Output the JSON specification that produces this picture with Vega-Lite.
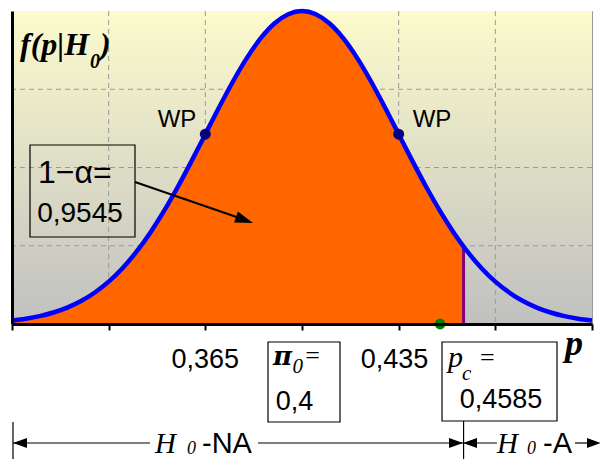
{
  "$schema": "https://vega.github.io/schema/vega-lite/v6.json",
  "width": 580,
  "height": 313,
  "autosize": {"type": "none"},
  "padding": {"left": 12, "top": 11, "right": 8, "bottom": 135},
  "background": "white",
  "config": {"view": {"stroke": "#999999", "strokeWidth": 1}},
  "datasets": {
    "curve": [
      {"p": 0.295, "f": 0.0111}, {"p": 0.300, "f": 0.0169}, {"p": 0.305, "f": 0.0251}, {"p": 0.310, "f": 0.0367},
      {"p": 0.315, "f": 0.0524}, {"p": 0.320, "f": 0.0734}, {"p": 0.325, "f": 0.1007}, {"p": 0.330, "f": 0.1353},
      {"p": 0.335, "f": 0.1783}, {"p": 0.340, "f": 0.2301}, {"p": 0.345, "f": 0.2909}, {"p": 0.350, "f": 0.3604},
      {"p": 0.355, "f": 0.4376}, {"p": 0.360, "f": 0.5204}, {"p": 0.365, "f": 0.6065}, {"p": 0.370, "f": 0.6926},
      {"p": 0.375, "f": 0.7748}, {"p": 0.380, "f": 0.8494}, {"p": 0.385, "f": 0.9123}, {"p": 0.390, "f": 0.9600},
      {"p": 0.395, "f": 0.9898}, {"p": 0.400, "f": 1.0}, {"p": 0.405, "f": 0.9898}, {"p": 0.410, "f": 0.9600},
      {"p": 0.415, "f": 0.9123}, {"p": 0.420, "f": 0.8494}, {"p": 0.425, "f": 0.7748}, {"p": 0.430, "f": 0.6926},
      {"p": 0.435, "f": 0.6065}, {"p": 0.440, "f": 0.5204}, {"p": 0.445, "f": 0.4376}, {"p": 0.450, "f": 0.3604},
      {"p": 0.455, "f": 0.2909}, {"p": 0.4585, "f": 0.2475}, {"p": 0.460, "f": 0.2301}, {"p": 0.465, "f": 0.1783},
      {"p": 0.470, "f": 0.1353}, {"p": 0.475, "f": 0.1007}, {"p": 0.480, "f": 0.0734}, {"p": 0.485, "f": 0.0524},
      {"p": 0.490, "f": 0.0367}, {"p": 0.495, "f": 0.0251}, {"p": 0.500, "f": 0.0169}, {"p": 0.505, "f": 0.0111}
    ]
  },
  "layer": [
    {
      "data": {"values": [{"p": 0.295, "p2": 0.505, "f": 0, "f2": 1}]},
      "mark": {"type": "rect", "color": {"gradient": "linear", "x1": 0, "y1": 0, "x2": 0, "y2": 1, "stops": [{"offset": 0, "color": "#FCFBCC"}, {"offset": 1, "color": "#C0C0C0"}]}},
      "encoding": {
        "x": {"field": "p", "type": "quantitative", "scale": {"domain": [0.295, 0.505], "nice": false, "zero": false},
              "axis": {"values": [0.295, 0.33, 0.365, 0.4, 0.435, 0.47, 0.505], "labels": false, "ticks": true, "tickSize": 6, "tickWidth": 2, "tickColor": "black", "domainColor": "black", "domainWidth": 3, "grid": false, "title": null, "zindex": 1}},
        "x2": {"field": "p2"},
        "y": {"field": "f", "type": "quantitative", "scale": {"domain": [0, 1], "nice": false, "zero": false},
              "axis": {"labels": false, "ticks": false, "domainColor": "black", "domainWidth": 3, "grid": false, "title": null, "zindex": 1}},
        "y2": {"field": "f2"}
      }
    },
    {
      "data": {"values": [{"p": 0.33}, {"p": 0.365}, {"p": 0.4}, {"p": 0.435}, {"p": 0.47}]},
      "mark": {"type": "rule", "color": "#9A9A9A", "strokeWidth": 1, "strokeDash": [5, 4]},
      "encoding": {"x": {"field": "p", "type": "quantitative"}}
    },
    {
      "data": {"values": [{"f": 0.25}, {"f": 0.5}, {"f": 0.75}]},
      "mark": {"type": "rule", "color": "#9A9A9A", "strokeWidth": 1, "strokeDash": [5, 4]},
      "encoding": {"y": {"field": "f", "type": "quantitative"}}
    },
    {
      "data": {"name": "curve"},
      "transform": [{"filter": "datum.p <= 0.4586"}],
      "mark": {"type": "area", "color": "#FF6600", "interpolate": "monotone"},
      "encoding": {"x": {"field": "p", "type": "quantitative"}, "y": {"field": "f", "type": "quantitative"}}
    },
    {
      "data": {"values": [{"p": 0.4585, "f": 0, "f2": 0.2475}]},
      "mark": {"type": "rule", "color": "#800080", "strokeWidth": 3},
      "encoding": {"x": {"field": "p", "type": "quantitative"}, "y": {"field": "f", "type": "quantitative"}, "y2": {"field": "f2"}}
    },
    {
      "data": {"name": "curve"},
      "mark": {"type": "line", "color": "#0000FF", "strokeWidth": 4.5, "interpolate": "monotone"},
      "encoding": {"x": {"field": "p", "type": "quantitative"}, "y": {"field": "f", "type": "quantitative"}}
    },
    {
      "data": {"values": [{"p": 0.365, "f": 0.6065}, {"p": 0.435, "f": 0.6065}]},
      "mark": {"type": "point", "filled": true, "color": "#000080", "opacity": 1, "size": 120},
      "encoding": {"x": {"field": "p", "type": "quantitative"}, "y": {"field": "f", "type": "quantitative"}}
    },
    {
      "data": {"values": [{"p": 0.45, "f": 0}]},
      "mark": {"type": "point", "filled": true, "color": "#008000", "opacity": 1, "size": 120},
      "encoding": {"x": {"field": "p", "type": "quantitative"}, "y": {"field": "f", "type": "quantitative"}}
    },
    {
      "data": {"values": [{"p": 0.35474, "f": 0.629, "t": "WP"}, {"p": 0.44707, "f": 0.629, "t": "WP"}]},
      "mark": {"type": "text", "font": "Liberation Sans", "fontSize": 24, "align": "center", "baseline": "alphabetic", "color": "black"},
      "encoding": {"x": {"field": "p", "type": "quantitative"}, "y": {"field": "f", "type": "quantitative"}, "text": {"field": "t"}}
    },
    {
      "data": {"values": [{"p": 0.2979, "f": 0.8594, "t": "f(p|H"}, {"p": 0.32686, "f": 0.8594, "t": ")"}]},
      "mark": {"type": "text", "font": "Liberation Serif", "fontSize": 32, "fontWeight": "bold", "fontStyle": "italic", "align": "left", "baseline": "alphabetic", "color": "black"},
      "encoding": {"x": {"field": "p", "type": "quantitative"}, "y": {"field": "f", "type": "quantitative"}, "text": {"field": "t"}}
    },
    {
      "data": {"values": [{"p": 0.32324, "f": 0.8179, "t": "0"}]},
      "mark": {"type": "text", "font": "Liberation Serif", "fontSize": 20, "fontWeight": "bold", "fontStyle": "italic", "align": "left", "baseline": "alphabetic", "color": "black"},
      "encoding": {"x": {"field": "p", "type": "quantitative"}, "y": {"field": "f", "type": "quantitative"}, "text": {"field": "t"}}
    },
    {
      "data": {"values": [
        {"p": 0.30152, "p2": 0.33953, "f": 0.5719, "f2": 0.2780},
        {"p": 0.38769, "p2": 0.41376, "f": -0.0575, "f2": -0.3131},
        {"p": 0.45069, "p2": 0.49233, "f": -0.0575, "f2": -0.3099}
      ]},
      "mark": {"type": "rect", "fill": "transparent", "stroke": "black", "strokeWidth": 1.2},
      "encoding": {"x": {"field": "p", "type": "quantitative"}, "x2": {"field": "p2"}, "y": {"field": "f", "type": "quantitative"}, "y2": {"field": "f2"}}
    },
    {
      "data": {"values": [{"p": 0.30441, "f": 0.4505, "t": "1−α="}]},
      "mark": {"type": "text", "font": "Liberation Sans", "fontSize": 32, "align": "left", "baseline": "alphabetic", "color": "black"},
      "encoding": {"x": {"field": "p", "type": "quantitative"}, "y": {"field": "f", "type": "quantitative"}, "text": {"field": "t"}}
    },
    {
      "data": {"values": [{"p": 0.31962, "f": 0.3259, "t": "0,9545"}]},
      "mark": {"type": "text", "font": "Liberation Sans", "fontSize": 28, "align": "center", "baseline": "alphabetic", "color": "black"},
      "encoding": {"x": {"field": "p", "type": "quantitative"}, "y": {"field": "f", "type": "quantitative"}, "text": {"field": "t"}}
    },
    {
      "data": {"values": [{"p": 0.33953, "f": 0.4537, "p2": 0.3800, "f2": 0.3306}]},
      "mark": {"type": "rule", "color": "black", "strokeWidth": 2},
      "encoding": {"x": {"field": "p", "type": "quantitative"}, "x2": {"field": "p2"}, "y": {"field": "f", "type": "quantitative"}, "y2": {"field": "f2"}}
    },
    {
      "data": {"values": [{"p": 0.37918, "f": 0.3323}]},
      "mark": {"type": "point", "filled": true, "color": "black", "opacity": 1, "size": 324, "shape": "M1,0L-1,-0.65L-1,0.65Z", "angle": 19},
      "encoding": {"x": {"field": "p", "type": "quantitative"}, "y": {"field": "f", "type": "quantitative"}}
    },
    {
      "data": {"values": [{"p": 0.365, "f": -0.1406, "t": "0,365"}, {"p": 0.4335, "f": -0.1406, "t": "0,435"}, {"p": 0.39728, "f": -0.2748, "t": "0,4"}, {"p": 0.47205, "f": -0.2684, "t": "0,4585"}]},
      "mark": {"type": "text", "font": "Liberation Sans", "fontSize": 27, "align": "center", "baseline": "alphabetic", "color": "black"},
      "encoding": {"x": {"field": "p", "type": "quantitative"}, "y": {"field": "f", "type": "quantitative"}, "text": {"field": "t"}}
    },
    {
      "data": {"values": [{"p": 0.3895, "f": -0.131, "t": "π"}]},
      "mark": {"type": "text", "font": "DejaVu Serif", "fontSize": 26, "fontWeight": "bold", "fontStyle": "italic", "align": "left", "baseline": "alphabetic", "color": "black"},
      "encoding": {"x": {"field": "p", "type": "quantitative"}, "y": {"field": "f", "type": "quantitative"}, "text": {"field": "t"}}
    },
    {
      "data": {"values": [{"p": 0.3966, "f": -0.1565, "t": "0"}, {"p": 0.45793, "f": -0.1789, "t": "c"}]},
      "mark": {"type": "text", "font": "Liberation Serif", "fontSize": 21, "fontStyle": "italic", "align": "left", "baseline": "alphabetic", "color": "black"},
      "encoding": {"x": {"field": "p", "type": "quantitative"}, "y": {"field": "f", "type": "quantitative"}, "text": {"field": "t"}}
    },
    {
      "data": {"values": [{"p": 0.4012, "f": -0.1278, "t": "="}, {"p": 0.46445, "f": -0.1342, "t": "="}]},
      "mark": {"type": "text", "font": "Liberation Serif", "fontSize": 26, "align": "left", "baseline": "alphabetic", "color": "black"},
      "encoding": {"x": {"field": "p", "type": "quantitative"}, "y": {"field": "f", "type": "quantitative"}, "text": {"field": "t"}}
    },
    {
      "data": {"values": [{"p": 0.45286, "f": -0.1374, "t": "p"}]},
      "mark": {"type": "text", "font": "Liberation Serif", "fontSize": 30, "fontStyle": "italic", "align": "left", "baseline": "alphabetic", "color": "black"},
      "encoding": {"x": {"field": "p", "type": "quantitative"}, "y": {"field": "f", "type": "quantitative"}, "text": {"field": "t"}}
    },
    {
      "data": {"values": [{"p": 0.49523, "f": -0.099, "t": "p"}]},
      "mark": {"type": "text", "font": "Liberation Serif", "fontSize": 36, "fontWeight": "bold", "fontStyle": "italic", "align": "left", "baseline": "alphabetic", "color": "black"},
      "encoding": {"x": {"field": "p", "type": "quantitative"}, "y": {"field": "f", "type": "quantitative"}, "text": {"field": "t"}}
    },
    {
      "data": {"values": [{"p": 0.29536, "f": -0.3131, "f2": -0.45}, {"p": 0.4585, "f": -0.3099, "f2": -0.45}]},
      "mark": {"type": "rule", "color": "black", "strokeWidth": 1.2},
      "encoding": {"x": {"field": "p", "type": "quantitative"}, "y": {"field": "f", "type": "quantitative"}, "y2": {"field": "f2"}}
    },
    {
      "data": {"values": [{"p": 0.29536, "p2": 0.34497, "f": -0.3802}, {"p": 0.38407, "p2": 0.4585, "f": -0.3802}, {"p": 0.4585, "p2": 0.4706, "f": -0.3802}, {"p": 0.49884, "p2": 0.50718, "f": -0.3802}]},
      "mark": {"type": "rule", "color": "black", "strokeWidth": 1.2},
      "encoding": {"x": {"field": "p", "type": "quantitative"}, "x2": {"field": "p2"}, "y": {"field": "f", "type": "quantitative"}}
    },
    {
      "data": {"values": [{"p": 0.45576, "f": -0.3802}, {"p": 0.50572, "f": -0.3802}]},
      "mark": {"type": "point", "filled": true, "color": "black", "opacity": 1, "size": 196, "shape": "M1,0L-1,-0.7L-1,0.7Z"},
      "encoding": {"x": {"field": "p", "type": "quantitative"}, "y": {"field": "f", "type": "quantitative"}}
    },
    {
      "data": {"values": [{"p": 0.2979, "f": -0.3802}, {"p": 0.46083, "f": -0.3802}]},
      "mark": {"type": "point", "filled": true, "color": "black", "opacity": 1, "size": 196, "shape": "M-1,0L1,-0.7L1,0.7Z"},
      "encoding": {"x": {"field": "p", "type": "quantitative"}, "y": {"field": "f", "type": "quantitative"}}
    },
    {
      "data": {"values": [{"p": 0.34678, "f": -0.4121, "t": "H"}, {"p": 0.4706, "f": -0.4121, "t": "H"}]},
      "mark": {"type": "text", "font": "Liberation Serif", "fontSize": 29, "fontStyle": "italic", "align": "left", "baseline": "alphabetic", "color": "black"},
      "encoding": {"x": {"field": "p", "type": "quantitative"}, "y": {"field": "f", "type": "quantitative"}, "text": {"field": "t"}}
    },
    {
      "data": {"values": [{"p": 0.35836, "f": -0.4153, "t": "0"}, {"p": 0.48147, "f": -0.4153, "t": "0"}]},
      "mark": {"type": "text", "font": "Liberation Serif", "fontSize": 18, "fontStyle": "italic", "align": "left", "baseline": "alphabetic", "color": "black"},
      "encoding": {"x": {"field": "p", "type": "quantitative"}, "y": {"field": "f", "type": "quantitative"}, "text": {"field": "t"}}
    },
    {
      "data": {"values": [{"p": 0.36379, "f": -0.4121, "t": "-NA"}, {"p": 0.48726, "f": -0.4121, "t": "-A"}]},
      "mark": {"type": "text", "font": "Liberation Sans", "fontSize": 29, "align": "left", "baseline": "alphabetic", "color": "black"},
      "encoding": {"x": {"field": "p", "type": "quantitative"}, "y": {"field": "f", "type": "quantitative"}, "text": {"field": "t"}}
    }
  ]
}
